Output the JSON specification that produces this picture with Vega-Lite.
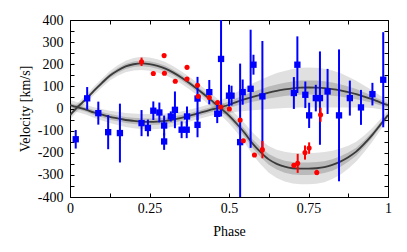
{
  "$schema": "https://vega.github.io/schema/vega-lite/v6.json",
  "width": 318,
  "height": 177,
  "autosize": {"type": "none"},
  "padding": {"left": 70, "top": 20, "right": 19, "bottom": 55},
  "background": "white",
  "config": {
    "view": {"stroke": null},
    "font": "Liberation Serif",
    "axis": {
      "grid": false,
      "domainColor": "#000000",
      "domainWidth": 1,
      "tickColor": "#000000",
      "tickWidth": 1,
      "tickSize": -4,
      "labelFont": "Liberation Serif",
      "labelFontSize": 14,
      "labelColor": "#000000",
      "titleFont": "Liberation Serif",
      "titleFontSize": 14,
      "titleFontWeight": "normal",
      "titleColor": "#000000"
    }
  },
  "datasets": {
    "curves": [
      {"p":0.000,"r":-30,"rl2":-50,"rh2":-10,"rl1":-39,"rh1":-21,"b":15,"bl2":-9,"bh2":39,"bl1":5,"bh1":25},
      {"p":0.025,"r":8,"rl2":-10,"rh2":26,"rl1":0,"rh1":16,"b":5,"bl2":-17,"bh2":27,"bl1":-5,"bh1":15},
      {"p":0.050,"r":42,"rl2":24,"rh2":60,"rl1":34,"rh1":50,"b":-5,"bl2":-27,"bh2":17,"bl1":-15,"bh1":5},
      {"p":0.075,"r":80,"rl2":61,"rh2":99,"rl1":72,"rh1":88,"b":-18,"bl2":-42,"bh2":6,"bl1":-29,"bh1":-7},
      {"p":0.100,"r":115,"rl2":95,"rh2":135,"rl1":106,"rh1":124,"b":-28,"bl2":-54,"bh2":-2,"bl1":-40,"bh1":-16},
      {"p":0.125,"r":148,"rl2":126,"rh2":170,"rl1":138,"rh1":158,"b":-38,"bl2":-66,"bh2":-10,"bl1":-51,"bh1":-25},
      {"p":0.150,"r":172,"rl2":148,"rh2":196,"rl1":161,"rh1":183,"b":-45,"bl2":-75,"bh2":-15,"bl1":-58,"bh1":-32},
      {"p":0.175,"r":190,"rl2":164,"rh2":216,"rl1":178,"rh1":202,"b":-52,"bl2":-84,"bh2":-20,"bl1":-66,"bh1":-38},
      {"p":0.200,"r":200,"rl2":172,"rh2":228,"rl1":188,"rh1":212,"b":-56,"bl2":-89,"bh2":-23,"bl1":-70,"bh1":-42},
      {"p":0.225,"r":204,"rl2":174,"rh2":234,"rl1":191,"rh1":217,"b":-59,"bl2":-93,"bh2":-25,"bl1":-74,"bh1":-44},
      {"p":0.250,"r":201,"rl2":171,"rh2":231,"rl1":188,"rh1":214,"b":-60,"bl2":-95,"bh2":-25,"bl1":-75,"bh1":-45},
      {"p":0.275,"r":193,"rl2":163,"rh2":223,"rl1":180,"rh1":206,"b":-59,"bl2":-93,"bh2":-25,"bl1":-74,"bh1":-44},
      {"p":0.300,"r":180,"rl2":150,"rh2":210,"rl1":167,"rh1":193,"b":-56,"bl2":-89,"bh2":-23,"bl1":-70,"bh1":-42},
      {"p":0.325,"r":162,"rl2":133,"rh2":191,"rl1":150,"rh1":174,"b":-50,"bl2":-81,"bh2":-19,"bl1":-64,"bh1":-36},
      {"p":0.350,"r":140,"rl2":112,"rh2":168,"rl1":128,"rh1":152,"b":-42,"bl2":-71,"bh2":-13,"bl1":-55,"bh1":-29},
      {"p":0.375,"r":115,"rl2":87,"rh2":143,"rl1":103,"rh1":127,"b":-33,"bl2":-60,"bh2":-6,"bl1":-45,"bh1":-21},
      {"p":0.400,"r":88,"rl2":60,"rh2":116,"rl1":76,"rh1":100,"b":-23,"bl2":-49,"bh2":3,"bl1":-35,"bh1":-11},
      {"p":0.425,"r":60,"rl2":32,"rh2":88,"rl1":48,"rh1":72,"b":-13,"bl2":-39,"bh2":13,"bl1":-25,"bh1":-1},
      {"p":0.450,"r":30,"rl2":0,"rh2":60,"rl1":18,"rh1":42,"b":-3,"bl2":-31,"bh2":25,"bl1":-15,"bh1":9},
      {"p":0.475,"r":0,"rl2":-32,"rh2":32,"rl1":-13,"rh1":13,"b":6,"bl2":-26,"bh2":38,"bl1":-7,"bh1":19},
      {"p":0.500,"r":-32,"rl2":-67,"rh2":3,"rl1":-46,"rh1":-18,"b":17,"bl2":-21,"bh2":55,"bl1":2,"bh1":32},
      {"p":0.525,"r":-70,"rl2":-109,"rh2":-31,"rl1":-86,"rh1":-54,"b":30,"bl2":-15,"bh2":75,"bl1":13,"bh1":47},
      {"p":0.550,"r":-112,"rl2":-156,"rh2":-68,"rl1":-130,"rh1":-94,"b":42,"bl2":-11,"bh2":95,"bl1":22,"bh1":62},
      {"p":0.575,"r":-160,"rl2":-210,"rh2":-110,"rl1":-180,"rh1":-140,"b":53,"bl2":-8,"bh2":114,"bl1":30,"bh1":76},
      {"p":0.600,"r":-198,"rl2":-253,"rh2":-143,"rl1":-220,"rh1":-176,"b":62,"bl2":-6,"bh2":130,"bl1":37,"bh1":87},
      {"p":0.625,"r":-230,"rl2":-290,"rh2":-170,"rl1":-254,"rh1":-206,"b":72,"bl2":-2,"bh2":146,"bl1":45,"bh1":99},
      {"p":0.650,"r":-250,"rl2":-314,"rh2":-186,"rl1":-276,"rh1":-224,"b":80,"bl2":0,"bh2":160,"bl1":51,"bh1":109},
      {"p":0.675,"r":-263,"rl2":-330,"rh2":-196,"rl1":-290,"rh1":-236,"b":86,"bl2":2,"bh2":170,"bl1":56,"bh1":116},
      {"p":0.700,"r":-270,"rl2":-339,"rh2":-201,"rl1":-298,"rh1":-242,"b":91,"bl2":3,"bh2":179,"bl1":60,"bh1":122},
      {"p":0.725,"r":-272,"rl2":-342,"rh2":-202,"rl1":-300,"rh1":-244,"b":94,"bl2":4,"bh2":184,"bl1":62,"bh1":126},
      {"p":0.750,"r":-272,"rl2":-342,"rh2":-202,"rl1":-300,"rh1":-244,"b":95,"bl2":5,"bh2":185,"bl1":63,"bh1":127},
      {"p":0.775,"r":-270,"rl2":-340,"rh2":-200,"rl1":-298,"rh1":-242,"b":94,"bl2":4,"bh2":184,"bl1":62,"bh1":126},
      {"p":0.800,"r":-265,"rl2":-333,"rh2":-197,"rl1":-292,"rh1":-238,"b":92,"bl2":4,"bh2":180,"bl1":61,"bh1":123},
      {"p":0.825,"r":-255,"rl2":-319,"rh2":-191,"rl1":-281,"rh1":-229,"b":88,"bl2":4,"bh2":172,"bl1":58,"bh1":118},
      {"p":0.850,"r":-240,"rl2":-299,"rh2":-181,"rl1":-264,"rh1":-216,"b":82,"bl2":4,"bh2":160,"bl1":54,"bh1":110},
      {"p":0.875,"r":-220,"rl2":-272,"rh2":-168,"rl1":-241,"rh1":-199,"b":74,"bl2":4,"bh2":144,"bl1":48,"bh1":100},
      {"p":0.900,"r":-195,"rl2":-240,"rh2":-150,"rl1":-213,"rh1":-177,"b":65,"bl2":5,"bh2":125,"bl1":42,"bh1":88},
      {"p":0.925,"r":-160,"rl2":-198,"rh2":-122,"rl1":-175,"rh1":-145,"b":54,"bl2":4,"bh2":104,"bl1":34,"bh1":74},
      {"p":0.950,"r":-120,"rl2":-151,"rh2":-89,"rl1":-133,"rh1":-107,"b":42,"bl2":2,"bh2":82,"bl1":26,"bh1":58},
      {"p":0.975,"r":-75,"rl2":-100,"rh2":-50,"rl1":-86,"rh1":-64,"b":28,"bl2":-3,"bh2":59,"bl1":15,"bh1":41},
      {"p":1.000,"r":-30,"rl2":-50,"rh2":-10,"rl1":-39,"rh1":-21,"b":15,"bl2":-9,"bh2":39,"bl1":5,"bh1":25}
    ],
    "blue": [
      {"p":0.018,"v":-139,"lo":-181,"hi":-97},
      {"p":0.054,"v":46,"lo":-5,"hi":97},
      {"p":0.089,"v":-21,"lo":-73,"hi":31},
      {"p":0.120,"v":-107,"lo":-184,"hi":-30},
      {"p":0.157,"v":-111,"lo":-244,"hi":22},
      {"p":0.225,"v":-66,"lo":-125,"hi":-7},
      {"p":0.245,"v":-88,"lo":-126,"hi":-50},
      {"p":0.262,"v":-10,"lo":-52,"hi":32},
      {"p":0.281,"v":-18,"lo":-63,"hi":27},
      {"p":0.296,"v":-77,"lo":-122,"hi":-32},
      {"p":0.296,"v":-149,"lo":-187,"hi":-111},
      {"p":0.317,"v":-36,"lo":-59,"hi":-13},
      {"p":0.330,"v":-6,"lo":-89,"hi":77},
      {"p":0.351,"v":-96,"lo":-134,"hi":-58},
      {"p":0.367,"v":-96,"lo":-134,"hi":-58},
      {"p":0.368,"v":-36,"lo":-81,"hi":9},
      {"p":0.401,"v":45,"lo":-53,"hi":143},
      {"p":0.401,"v":-74,"lo":-130,"hi":-18},
      {"p":0.438,"v":74,"lo":19,"hi":129},
      {"p":0.463,"v":-24,"lo":-66,"hi":18},
      {"p":0.475,"v":224,"lo":-36,"hi":484},
      {"p":0.500,"v":58,"lo":9,"hi":107},
      {"p":0.508,"v":58,"lo":13,"hi":103},
      {"p":0.535,"v":-152,"lo":-507,"hi":203},
      {"p":0.543,"v":74,"lo":17,"hi":131},
      {"p":0.568,"v":89,"lo":-178,"hi":356},
      {"p":0.577,"v":198,"lo":153,"hi":243},
      {"p":0.605,"v":55,"lo":-195,"hi":305},
      {"p":0.704,"v":70,"lo":-2,"hi":142},
      {"p":0.715,"v":198,"lo":70,"hi":326},
      {"p":0.740,"v":62,"lo":2,"hi":122},
      {"p":0.752,"v":-31,"lo":-88,"hi":26},
      {"p":0.773,"v":47,"lo":-13,"hi":107},
      {"p":0.786,"v":47,"lo":-164,"hi":258},
      {"p":0.810,"v":77,"lo":-25,"hi":179},
      {"p":0.846,"v":-31,"lo":-329,"hi":267},
      {"p":0.880,"v":47,"lo":-32,"hi":126},
      {"p":0.915,"v":5,"lo":-74,"hi":84},
      {"p":0.951,"v":65,"lo":14,"hi":116},
      {"p":0.985,"v":130,"lo":-85,"hi":345}
    ],
    "red": [
      {"p":0.225,"v":211,"lo":192,"hi":230},
      {"p":0.262,"v":158,"lo":158,"hi":158},
      {"p":0.296,"v":239,"lo":239,"hi":239},
      {"p":0.297,"v":159,"lo":159,"hi":159},
      {"p":0.331,"v":123,"lo":123,"hi":123},
      {"p":0.368,"v":186,"lo":186,"hi":186},
      {"p":0.368,"v":133,"lo":133,"hi":133},
      {"p":0.401,"v":105,"lo":105,"hi":105},
      {"p":0.403,"v":55,"lo":55,"hi":55},
      {"p":0.438,"v":50,"lo":50,"hi":50},
      {"p":0.464,"v":27,"lo":27,"hi":27},
      {"p":0.474,"v":7,"lo":7,"hi":7},
      {"p":0.501,"v":-2,"lo":-2,"hi":-2},
      {"p":0.535,"v":-52,"lo":-52,"hi":-52},
      {"p":0.545,"v":-146,"lo":-146,"hi":-146},
      {"p":0.580,"v":-210,"lo":-210,"hi":-210},
      {"p":0.605,"v":-186,"lo":-225,"hi":-147},
      {"p":0.704,"v":-257,"lo":-267,"hi":-247},
      {"p":0.716,"v":-248,"lo":-291,"hi":-205},
      {"p":0.739,"v":-199,"lo":-231,"hi":-167},
      {"p":0.752,"v":-179,"lo":-205,"hi":-153},
      {"p":0.776,"v":-289,"lo":-301,"hi":-277},
      {"p":0.788,"v":-28,"lo":-60,"hi":4}
    ]
  },
  "resolve": {"axis": {"x": "independent", "y": "independent"}},
  "layer": [
    {
      "data": {"name": "curves"},
      "mark": {"type": "area", "color": "#000000", "opacity": 0.12, "clip": true},
      "encoding": {
        "x": {"field": "p", "type": "quantitative", "scale": {"domain": [0, 1], "nice": false},
          "axis": {"orient": "bottom", "title": "Phase", "values": [0,0.125,0.25,0.375,0.5,0.625,0.75,0.875,1],
            "labelExpr": "datum.value % 0.25 == 0 ? '' + datum.value : ''", "labelPadding": 8, "titlePadding": 9, "labelFlush": false}},
        "y": {"field": "rl2", "type": "quantitative", "scale": {"domain": [-400, 400], "nice": false},
          "axis": {"orient": "left", "title": "Velocity [km/s]", "values": [-400,-350,-300,-250,-200,-150,-100,-50,0,50,100,150,200,250,300,350,400],
            "labelExpr": "datum.value % 100 == 0 ? '' + datum.value : ''", "labelPadding": 11, "titlePadding": 5, "labelFlush": false}},
        "y2": {"field": "rh2"}
      }
    },
    {
      "data": {"name": "curves"},
      "mark": {"type": "area", "color": "#000000", "opacity": 0.12, "clip": true},
      "encoding": {
        "x": {"field": "p", "type": "quantitative",
          "axis": {"orient": "top", "title": null, "labels": false, "values": [0,0.125,0.25,0.375,0.5,0.625,0.75,0.875,1]}},
        "y": {"field": "bl2", "type": "quantitative",
          "axis": {"orient": "right", "title": null, "labels": false, "values": [-400,-350,-300,-250,-200,-150,-100,-50,0,50,100,150,200,250,300,350,400]}},
        "y2": {"field": "bh2"}
      }
    },
    {
      "data": {"name": "curves"},
      "mark": {"type": "area", "color": "#000000", "opacity": 0.17, "clip": true},
      "encoding": {
        "x": {"field": "p", "type": "quantitative", "axis": null},
        "y": {"field": "rl1", "type": "quantitative", "axis": null},
        "y2": {"field": "rh1"}
      }
    },
    {
      "data": {"name": "curves"},
      "mark": {"type": "area", "color": "#000000", "opacity": 0.17, "clip": true},
      "encoding": {
        "x": {"field": "p", "type": "quantitative", "axis": null},
        "y": {"field": "bl1", "type": "quantitative", "axis": null},
        "y2": {"field": "bh1"}
      }
    },
    {
      "data": {"name": "curves"},
      "mark": {"type": "line", "color": "#3a3a3a", "strokeWidth": 1.8, "interpolate": "monotone", "clip": true},
      "encoding": {
        "x": {"field": "p", "type": "quantitative", "axis": null},
        "y": {"field": "r", "type": "quantitative", "axis": null}
      }
    },
    {
      "data": {"name": "curves"},
      "mark": {"type": "line", "color": "#3a3a3a", "strokeWidth": 1.8, "interpolate": "monotone", "clip": true},
      "encoding": {
        "x": {"field": "p", "type": "quantitative", "axis": null},
        "y": {"field": "b", "type": "quantitative", "axis": null}
      }
    },
    {
      "data": {"name": "blue"},
      "mark": {"type": "rule", "color": "#0000ff", "strokeWidth": 2, "clip": true},
      "encoding": {
        "x": {"field": "p", "type": "quantitative", "axis": null},
        "y": {"field": "lo", "type": "quantitative", "axis": null},
        "y2": {"field": "hi"}
      }
    },
    {
      "data": {"name": "blue"},
      "mark": {"type": "square", "color": "#0000ff", "opacity": 1, "size": 40, "clip": true},
      "encoding": {
        "x": {"field": "p", "type": "quantitative", "axis": null},
        "y": {"field": "v", "type": "quantitative", "axis": null}
      }
    },
    {
      "data": {"name": "red"},
      "mark": {"type": "rule", "color": "#ff0000", "strokeWidth": 2, "clip": true},
      "encoding": {
        "x": {"field": "p", "type": "quantitative", "axis": null},
        "y": {"field": "lo", "type": "quantitative", "axis": null},
        "y2": {"field": "hi"}
      }
    },
    {
      "data": {"name": "red"},
      "mark": {"type": "circle", "color": "#ff0000", "opacity": 1, "size": 26, "clip": true},
      "encoding": {
        "x": {"field": "p", "type": "quantitative", "axis": null},
        "y": {"field": "v", "type": "quantitative", "axis": null}
      }
    }
  ]
}
